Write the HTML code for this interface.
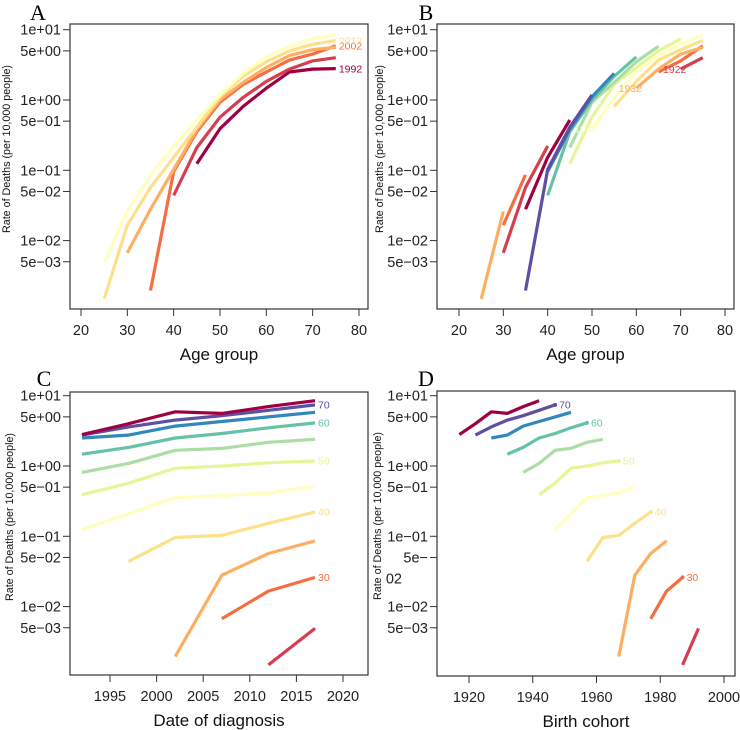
<!DOCTYPE html>
<html><head><meta charset="utf-8"><style>
body{margin:0;background:#fff}
svg{display:block;font-family:"Liberation Sans",sans-serif}
</style></head><body>
<svg id="chart" width="740" height="730" viewBox="0 0 740 730"></svg>
<script>
const ages=[25,30,35,40,45,50,55,60,65,70,75];
const periods=[1992,1997,2002,2007,2012,2017];
const rate25=[null,null,null,null,0.00148,0.0049];
const rate30=[null,null,null,0.0067,0.0166,0.026];
const rate35=[null,null,0.00195,0.028,0.057,0.086];
const rate40=[null,0.044,0.096,0.103,0.153,0.222];
const rate45=[0.124,0.21,0.354,0.38,0.41,0.52];
const rate50=[0.39,0.57,0.93,1.0,1.11,1.18];
const rate55=[0.81,1.09,1.67,1.78,2.17,2.4];
const rate60=[1.47,1.84,2.5,2.9,3.5,4.1];
const rate65=[2.5,2.75,3.7,4.3,5.0,5.8];
const rate70=[2.75,3.6,4.5,5.2,6.2,7.4];
const rate75=[2.8,4.0,5.9,5.6,7.0,8.5];
const rates=[rate25,rate30,rate35,rate40,rate45,rate50,rate55,rate60,rate65,rate70,rate75];
const yTickVals=[10,5,1,0.5,0.1,0.05,0.01,0.005];
const yTickLabels=["1e+01","5e+00","1e+00","5e\u221201","1e\u221201","5e\u221202","1e\u221202","5e\u221203"];
const ageTicks=[20,30,40,50,60,70,80];
const periodTicks=[1995,2000,2005,2010,2015,2020];
const cohortTicks=[1920,1940,1960,1980,2000];
const periodLabels=["2012","2002","1992"];
const cohortLabels=["1922","1932","1942"];
const ageLabels=[30,40,50,60,70];
const palette=["#9e0142","#d53e4f","#f46d43","#fdae61","#fee08b","#ffffbf","#e6f598","#abdda4","#66c2a5","#3288bd","#5e4fa2"];

const NS="http://www.w3.org/2000/svg";
const svg=document.getElementById('chart');
function mk(tag,attrs,parent){const e=document.createElementNS(NS,tag);for(const k in attrs)e.setAttribute(k,attrs[k]);(parent||svg).appendChild(e);return e;}

const panels={
 A:{bx:70,by:24,bw:298,bh:285,x:a=>81+(a-20)*4.633,y:v=>100-70.3*Math.log10(v),xt:ageTicks,title:"Age group",lx:38,ly:20,yt:7},
 B:{bx:437,by:24,bw:297,bh:285,x:a=>459+(a-20)*4.433,y:v=>100-70.3*Math.log10(v),xt:ageTicks,title:"Age group",lx:426,ly:20,yt:380},
 C:{bx:70,by:392,bw:298,bh:283,x:p=>110+(p-1995)*9.32,y:v=>466-70.3*Math.log10(v),xt:periodTicks,title:"Date of diagnosis",lx:44,ly:386,yt:10},
 D:{bx:437,by:391,bw:298,bh:285,x:c=>469+(c-1920)*3.1875,y:v=>466-70.3*Math.log10(v),xt:cohortTicks,title:"Birth cohort",lx:426,ly:386,yt:378}
};

function axes(key,P){
 const g=mk('g',{});
 
 
 const box=mk('rect',{x:P.bx,y:P.by,width:P.bw,height:P.bh,fill:'none',stroke:'#333','stroke-width':1.2},g);
 
 
 const L=mk('text',{x:P.lx,y:P.ly,'font-family':'"Liberation Serif",serif','font-size':22,'text-anchor':'middle'},g);
 L.textContent=key;
 
 
 yTickVals.forEach((v,i)=>{
  const yy=P.y(v);
  const t=mk('line',{x1:P.bx-7,x2:P.bx,y1:yy,y2:yy,stroke:'#333','stroke-width':1},g);
  
  
  let lab=yTickLabels[i];
  if(key==='D'&&v===0.05){lab="5e\u2212";
   const t2=mk('text',{x:P.bx-35,y:yy+26,'font-size':14.5,'text-anchor':'end',fill:'#222'},g);
   t2.textContent="02";
   
   }
  const tx=mk('text',{x:P.bx-9,y:yy+5,'font-size':14.5,'text-anchor':'end',fill:'#222'},g);
  tx.textContent=lab;
  
  
 });
 P.xt.forEach(v=>{
  const xx=P.x(v);
  const t=mk('line',{x1:xx,x2:xx,y1:P.by+P.bh,y2:P.by+P.bh+7,stroke:'#333','stroke-width':1},g);
  
  
  const tx=mk('text',{x:xx,y:P.by+P.bh+26,'font-size':14.5,'text-anchor':'middle',fill:'#222'},g);
  tx.textContent=v;
  
  
 });
 const xt=mk('text',{x:P.bx+P.bw/2,y:P.by+P.bh+51,'font-size':17,'text-anchor':'middle',fill:'#111'},g);
 xt.textContent=P.title;
 
 
 const cy=P.by+125;
 const yt=mk('text',{x:P.yt,y:cy,'font-size':11,'text-anchor':'middle',fill:'#111',transform:`rotate(-90 ${P.yt} ${cy})`,'dominant-baseline':'middle',textLength:168,lengthAdjust:'spacingAndGlyphs'},g);
 yt.textContent="Rate of Deaths (per 10,000 people)";
 
 
 return g;
}
function line(g,pts,color,name){
 if(pts.length<2)return null;
 const p=mk('polyline',{points:pts.map(q=>q[0].toFixed(1)+','+q[1].toFixed(1)).join(' '),fill:'none',stroke:color,'stroke-width':3.2,'stroke-linejoin':'round'},g);
 
 
 return p;
}
function label(g,x,y,txt,color,anchor){
 const t=mk('text',{x:x,y:y,'font-size':10.5,fill:color,'text-anchor':anchor||'start','dominant-baseline':'middle'},g);
 t.textContent=txt;
 
 
}

// Panel A: per period vs age
(function(){const P=panels.A,g=axes('A',P);
 periods.forEach((p,j)=>{
  const pts=[];ages.forEach((a,i)=>{const v=rates[i][j];if(v!=null)pts.push([P.x(a),P.y(v)]);});
  line(g,pts,palette[j%11],'line-period-'+p);
  if(periodLabels.includes(String(p))){const v=rates[ages.length-1][j];label(g,P.x(75)+3,P.y(v)+1,String(p),palette[j%11]);}
 });
})();
// Panel B: per cohort vs age
(function(){const P=panels.B,g=axes('B',P);
 const cohorts=[];for(let c=periods[0]-ages[ages.length-1];c<=periods[periods.length-1]-ages[0];c+=5)cohorts.push(c);
 cohorts.forEach((c,k)=>{
  const pts=[];ages.forEach((a,i)=>{const j=periods.indexOf(c+a);if(j>=0&&rates[i][j]!=null)pts.push([P.x(a),P.y(rates[i][j])]);});
  line(g,pts,palette[k%11],'line-cohort-'+c);
 });
 cohorts.forEach((c,k)=>{
  if(!cohortLabels.includes(String(c)))return;
  const i=ages.indexOf(periods[0]-c);const v=rates[i][0];
  label(g,P.x(ages[i])-6,P.y(v)+1,String(c),k%11===7?'#fff':palette[k%11],'middle');
 });
})();
// Panel C: per age vs period
(function(){const P=panels.C,g=axes('C',P);
 ages.forEach((a,i)=>{const col=palette[(i+1)%11];
  const pts=[];periods.forEach((p,j)=>{const v=rates[i][j];if(v!=null)pts.push([P.x(p),P.y(v)]);});
  line(g,pts,col,'line-age-'+a);
  if(ageLabels.includes(a))label(g,P.x(2017)+3,P.y(rates[i][5])+1,String(a),col);
 });
})();
// Panel D: per age vs cohort
(function(){const P=panels.D,g=axes('D',P);
 ages.forEach((a,i)=>{const col=palette[(i+1)%11];
  const pts=[];periods.forEach((p,j)=>{const v=rates[i][j];if(v!=null)pts.push([P.x(p-a),P.y(v)]);});
  line(g,pts,col,'line-age-'+a);
  if(ageLabels.includes(a)){const xx=P.x(2017-a),yy=P.y(rates[i][5]);
   const d=mk('circle',{cx:xx,cy:yy,r:2,fill:col},g);
   
   
   label(g,xx+4,yy+1,String(a),col);}
 });
})();
</script>
</body></html>
